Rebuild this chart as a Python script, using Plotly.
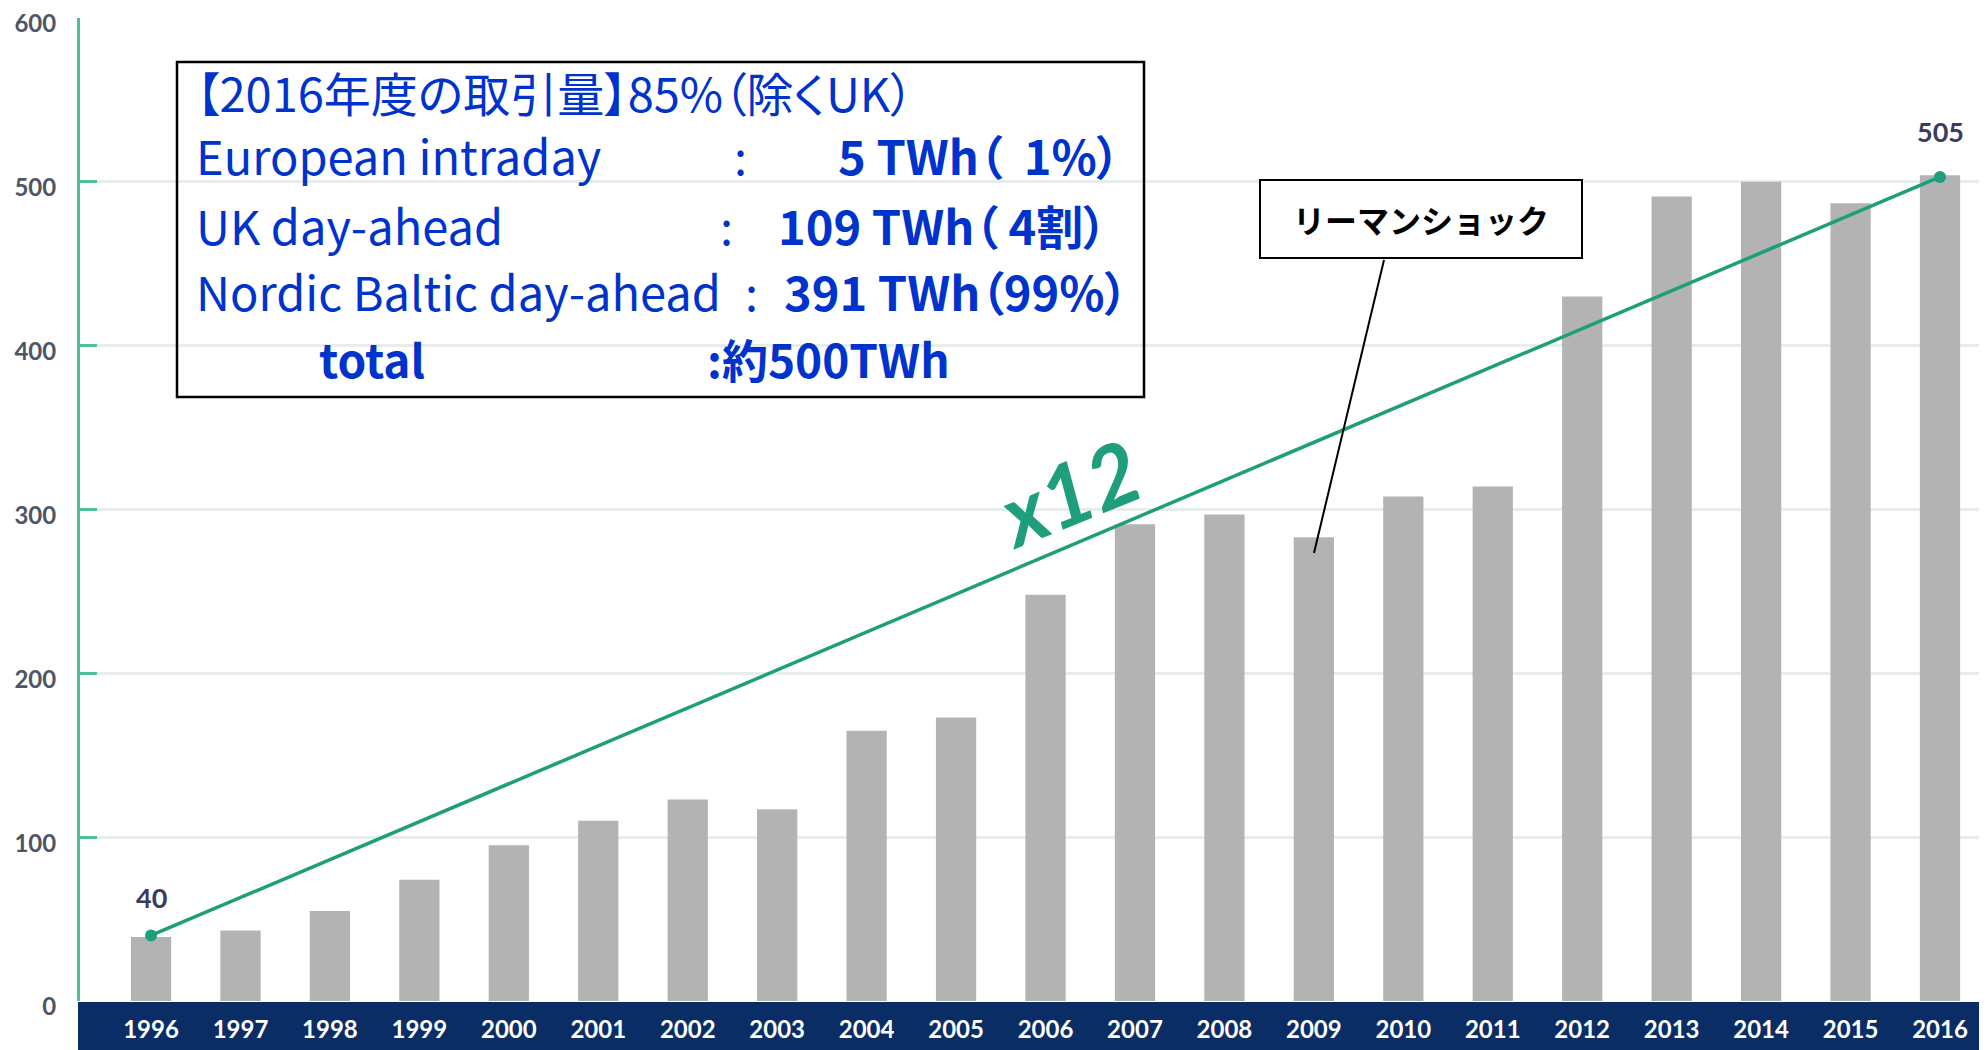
import plotly.graph_objects as go

# ---------------- data ----------------
years = ["1996", "1997", "1998", "1999", "2000", "2001", "2002", "2003", "2004", "2005",
         "2006", "2007", "2008", "2009", "2010", "2011", "2012", "2013", "2014", "2015", "2016"]
volumes_twh = [39, 43, 55, 74, 95, 110, 123, 117, 165, 173,
               248, 291, 297, 283, 308, 314, 430, 491, 500, 487, 504]

trend_years = ["1996", "2016"]
trend_values = [40, 503]
trend_labels = ["40", "505"]

y_ticks = [0, 100, 200, 300, 400, 500, 600]

box_title = "【2016年度の取引量】85%（除くUK）"
box_labels = ["European intraday", "UK day-ahead", "Nordic Baltic day-ahead"]
box_values = ["5 TWh（  1%）", "109 TWh（ 4割）", "391 TWh（99%）"]
total_label = "total"
total_value = ":約500TWh"
lehman_label = "リーマンショック"
growth_label = "x12"

# ---------------- geometry (page offset of 8px from body margin) ----------------
OFF = 8
W, H = 1987 - OFF, 1050 - OFF
L, R, T, B = 80 - OFF, 8, 18 - OFF, 49
PW, PH = W - L - R, H - T - B

def px(x):
    """reference page x -> paper x"""
    return (x - OFF - L) / PW

def py(y):
    """reference page y -> paper y"""
    return (H - B - (y - OFF)) / PH

BAR = "#b3b3b3"
GREEN = "#1f9e7b"
AXIS_GREEN = "#4dbf9f"
NAVY = "#0b2d66"
BLUE = "#0033cc"
JP = "Noto Sans CJK JP"

def palt(t):
    return "<span style=\"font-feature-settings:'palt'\">" + t + "</span>"

fig = go.Figure()

fig.add_trace(go.Bar(
    x=years, y=volumes_twh, marker=dict(color=BAR, line=dict(width=0)),
    width=0.45, hoverinfo="x+y", showlegend=False))

fig.add_trace(go.Scatter(
    x=trend_years, y=trend_values, mode="lines+markers",
    line=dict(color=GREEN, width=3.5), marker=dict(color=GREEN, size=12),
    showlegend=False, hoverinfo="skip"))

annotations = []
# point labels
for xv, yv, lab, shift in zip(trend_years, trend_values, trend_labels, [38, 45]):
    annotations.append(dict(x=years.index(xv), y=yv, xref="x", yref="y", text=lab,
                            showarrow=False, yshift=shift,
                            font=dict(family="Lato", size=27, color="#3b3b5e", weight="bold")))

# x12
annotations.append(dict(x=px(1068), y=py(492), xref="paper", yref="paper", text=growth_label,
                        showarrow=False, textangle=-22,
                        font=dict(family="Lato", size=86, color=GREEN, weight="bold", style="italic")))

# info box text
annotations.append(dict(x=px(194), y=py(91), xref="paper", yref="paper", xanchor="left", yanchor="middle",
                        text=palt(box_title), showarrow=False,
                        font=dict(family=JP, size=47, color=BLUE)))
TXT_UP = 2
label_y = [157, 226, 293]
colon_x = [740, 726, 751]
value_right = [1122, 1109, 1130]
for lab, val, ly, cx, vr in zip(box_labels, box_values, label_y, colon_x, value_right):
    annotations.append(dict(x=px(194), y=py(ly - TXT_UP), xref="paper", yref="paper", xanchor="left", yanchor="middle",
                            text=lab, showarrow=False, font=dict(family=JP, size=47, color=BLUE)))
    annotations.append(dict(x=px(cx), y=py(ly - TXT_UP), xref="paper", yref="paper", xanchor="center", yanchor="middle",
                            text=":", showarrow=False, font=dict(family=JP, size=47, color=BLUE)))
    annotations.append(dict(x=px(vr), y=py(ly - TXT_UP), xref="paper", yref="paper", xanchor="right", yanchor="middle",
                            text=palt("<b>" + val + "</b>"), showarrow=False,
                            font=dict(family=JP, size=47, color=BLUE)))
annotations.append(dict(x=px(317), y=py(360 - TXT_UP), xref="paper", yref="paper", xanchor="left", yanchor="middle",
                        text="<b>" + total_label + "</b>", showarrow=False,
                        font=dict(family=JP, size=46, color=BLUE)))
annotations.append(dict(x=px(705), y=py(360 - TXT_UP), xref="paper", yref="paper", xanchor="left", yanchor="middle",
                        text=palt("<b>" + total_value + "</b>"), showarrow=False,
                        font=dict(family=JP, size=46, color=BLUE)))

# Lehman shock callout
annotations.append(dict(x=px(1421), y=py(219), xref="paper", yref="paper", xanchor="center", yanchor="middle",
                        text="<b>" + lehman_label + "</b>", showarrow=False,
                        width=320, height=76, borderpad=0, borderwidth=2, bordercolor="#000000",
                        bgcolor="#ffffff", font=dict(family=JP, size=32, color="#000000")))

shapes = [
    # navy category band
    dict(type="rect", xref="paper", yref="paper", x0=px(78), x1=1.0, y0=py(1051), y1=py(1002),
         fillcolor=NAVY, line=dict(width=0), layer="below"),
    # info box frame
    dict(type="rect", xref="paper", yref="paper", x0=px(177), x1=px(1144), y0=py(397), y1=py(62),
         line=dict(color="#000000", width=2.5), fillcolor="rgba(0,0,0,0)", layer="above"),
    # leader line
    dict(type="line", xref="paper", yref="paper", x0=px(1384), y0=py(260), x1=px(1314), y1=py(553),
         line=dict(color="#000000", width=2), layer="above"),
]

fig.update_layout(
    width=W, height=H,
    margin=dict(l=L, r=R, t=T, b=B, pad=0, autoexpand=False),
    paper_bgcolor="#ffffff", plot_bgcolor="#ffffff",
    annotations=annotations, shapes=shapes,
    xaxis=dict(type="category", range=[-0.794, 20.436], showgrid=False, zeroline=False,
               showline=False, ticks="", ticklabelstandoff=12, automargin=False,
               tickfont=dict(family="Lato", size=24, color="#ffffff", weight="bold"),
               fixedrange=True),
    yaxis=dict(range=[0, 600], tickvals=y_ticks, showgrid=True, gridcolor="#e6edea", gridwidth=3,
               zeroline=False, showline=True, linecolor=AXIS_GREEN, linewidth=3,
               ticks="inside", ticklen=17, tickwidth=3, tickcolor=AXIS_GREEN,
               ticklabelstandoff=16, ticklabelshift=6, ticklabeloverflow="allow", automargin=False,
               tickfont=dict(family="Lato", size=24, color="#4d5566", weight="bold"),
               fixedrange=True),
)

fig.write_html("out.html")
